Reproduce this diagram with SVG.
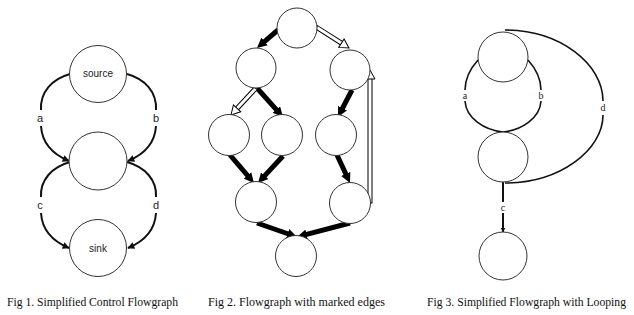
<svg xmlns="http://www.w3.org/2000/svg" width="634" height="315" viewBox="0 0 634 315">
<style>
.node{fill:#fff;stroke:#333;stroke-width:1}
.e1{fill:none;stroke:#111;stroke-width:2}
.e3{fill:none;stroke:#111;stroke-width:1.6}
.thick{stroke:#000;stroke-width:5;fill:none}
.hout{stroke:#000;stroke-width:5;fill:none}
.hin{stroke:#fff;stroke-width:3;fill:none}
.hhead{fill:#fff;stroke:#000;stroke-width:1}
.lab1{font-family:"Liberation Sans",Arial,sans-serif;font-size:11px;fill:#222;text-anchor:middle}
.lab3{font-family:"Liberation Serif","Times New Roman",serif;font-size:10px;fill:#222;text-anchor:middle}
.cap{font-family:"Liberation Serif","Times New Roman",serif;font-size:11.7px;fill:#111}
</style>
<defs>
<marker id="ah1" viewBox="0 0 10 10" refX="9" refY="5" markerUnits="userSpaceOnUse" markerWidth="8" markerHeight="7" orient="auto">
<path d="M0,0 L10,5 L0,10 z" fill="#111"/>
</marker>
<marker id="ah2" viewBox="0 0 10 10" refX="1" refY="5" markerUnits="userSpaceOnUse" markerWidth="10" markerHeight="10" orient="auto">
<path d="M0,0 L10,5 L0,10 z" fill="#000"/>
</marker>
<marker id="ah3" viewBox="0 0 10 10" refX="9" refY="5" markerUnits="userSpaceOnUse" markerWidth="5" markerHeight="5" orient="auto">
<path d="M0,0 L10,5 L0,10 z" fill="#111"/>
</marker>
</defs>
<rect width="634" height="315" fill="#fff"/>

<g id="connectors">
<!-- Fig 1 -->
<path class="e1" d="M70,74 C52,79 40,92 41,110"/>
<path class="e1" d="M41,126 C42,142 52,154 69,161" marker-end="url(#ah1)"/>
<path class="e1" d="M127,74 C145,79 157,92 156,110"/>
<path class="e1" d="M156,126 C155,142 145,154 128,161" marker-end="url(#ah1)"/>
<path class="e1" d="M70,162 C52,167 40,180 41,197"/>
<path class="e1" d="M41,213 C42,229 52,241 69,248" marker-end="url(#ah1)"/>
<path class="e1" d="M127,162 C145,167 157,180 156,197"/>
<path class="e1" d="M156,213 C155,229 145,241 128,248" marker-end="url(#ah1)"/>
<!-- Fig 2 thick -->
<line class="thick" x1="278" y1="30" x2="263.8" y2="42.1" marker-end="url(#ah2)"/>
<line class="thick" x1="257" y1="88" x2="277.0" y2="110.3" marker-end="url(#ah2)"/>
<line class="thick" x1="352" y1="90" x2="342.1" y2="109.0" marker-end="url(#ah2)"/>
<line class="thick" x1="230" y1="155" x2="248.1" y2="176.2" marker-end="url(#ah2)"/>
<line class="thick" x1="283" y1="156" x2="264.1" y2="176.4" marker-end="url(#ah2)"/>
<line class="thick" x1="337" y1="155" x2="346.2" y2="174.8" marker-end="url(#ah2)"/>
<line class="thick" x1="257" y1="223" x2="288.5" y2="234.0" marker-end="url(#ah2)"/>
<line class="thick" x1="350" y1="223" x2="305.7" y2="234.7" marker-end="url(#ah2)"/>
<!-- Fig 2 hollow -->
<line class="hout" x1="316" y1="27" x2="343" y2="44.2"/>
<line class="hin" x1="317" y1="27.6" x2="344" y2="44.8"/>
<polygon class="hhead" transform="translate(349,48) rotate(32.5)" points="0,0 -9,-5 -9,5"/>
<line class="hout" x1="256" y1="88" x2="236.8" y2="108.7"/>
<line class="hin" x1="255.4" y1="88.7" x2="236" y2="109.6"/>
<polygon class="hhead" transform="translate(231,115) rotate(132.8)" points="0,0 -9,-5 -9,5"/>
<line class="hout" x1="370" y1="203.5" x2="370" y2="78"/>
<line class="hin" x1="370" y1="202.5" x2="370" y2="77"/>
<polygon class="hhead" transform="translate(370,70) rotate(-90)" points="0,0 -9,-5 -9,5"/>
<!-- Fig 3 -->
<path class="e3" d="M478,60 C469,70 465,80 465,90"/>
<path class="e3" d="M465,101 C466,118 484,130 503,132"/>
<path class="e3" d="M528,60 C537,70 541,80 541,90"/>
<path class="e3" d="M541,101 C540,118 522,130 503,132"/>
<path class="e3" d="M505,30 C560,30 603,64 603,101"/>
<path class="e3" d="M603,115 C603,150 560,183 505,183"/>
<line class="e3" x1="503" y1="182" x2="503" y2="202" style="stroke-width:2"/>
<line class="e3" x1="503" y1="213" x2="503" y2="232" style="stroke-width:2" marker-end="url(#ah3)"/>
</g>

<g id="labels">
<text class="lab1" x="40" y="122">a</text>
<text class="lab1" x="156" y="122">b</text>
<text class="lab1" x="40" y="209">c</text>
<text class="lab1" x="156" y="209">d</text>
<text class="lab3" x="465" y="98.5">a</text>
<text class="lab3" x="541" y="98.5">b</text>
<text class="lab3" x="503" y="210.5">c</text>
<text class="lab3" x="603" y="110.5">d</text>
</g>

<g id="fig1">
<g id="source"><circle class="node" cx="98" cy="74" r="28.5"/><text class="lab1" x="98" y="77" style="font-size:10px">source</text></g>
<g id="mid1"><circle class="node" cx="98" cy="161" r="29"/></g>
<g id="sink"><circle class="node" cx="98" cy="248" r="28.5"/><text class="lab1" x="98" y="251.5" style="font-size:10px">sink</text></g>
</g>

<g id="fig2">
<g id="n1"><circle class="node" cx="297" cy="28" r="20"/></g>
<g id="n2"><circle class="node" cx="256" cy="68" r="20"/></g>
<g id="n3"><circle class="node" cx="350" cy="70" r="20"/></g>
<g id="n4"><circle class="node" cx="229" cy="135" r="20.5"/></g>
<g id="n5"><circle class="node" cx="282" cy="135" r="20.5"/></g>
<g id="n6"><circle class="node" cx="336" cy="135" r="20.5"/></g>
<g id="n7"><circle class="node" cx="256" cy="202" r="20.5"/></g>
<g id="n8"><circle class="node" cx="350" cy="203" r="20.5"/></g>
<g id="n9"><circle class="node" cx="296" cy="256" r="20.5"/></g>
</g>

<g id="fig3">
<g id="t1"><circle class="node" cx="503" cy="57" r="25"/></g>
<g id="t2"><circle class="node" cx="503" cy="157" r="25"/></g>
<g id="t3"><circle class="node" cx="503" cy="256" r="24"/></g>
</g>

<g id="captions">
<text class="cap" x="7" y="306" textLength="171" lengthAdjust="spacingAndGlyphs">Fig 1. Simplified Control Flowgraph</text>
<text class="cap" x="208" y="306" textLength="177" lengthAdjust="spacingAndGlyphs">Fig 2. Flowgraph with marked edges</text>
<text class="cap" x="427" y="306" textLength="199" lengthAdjust="spacingAndGlyphs">Fig 3. Simplified Flowgraph with Looping</text>
</g>
</svg>
